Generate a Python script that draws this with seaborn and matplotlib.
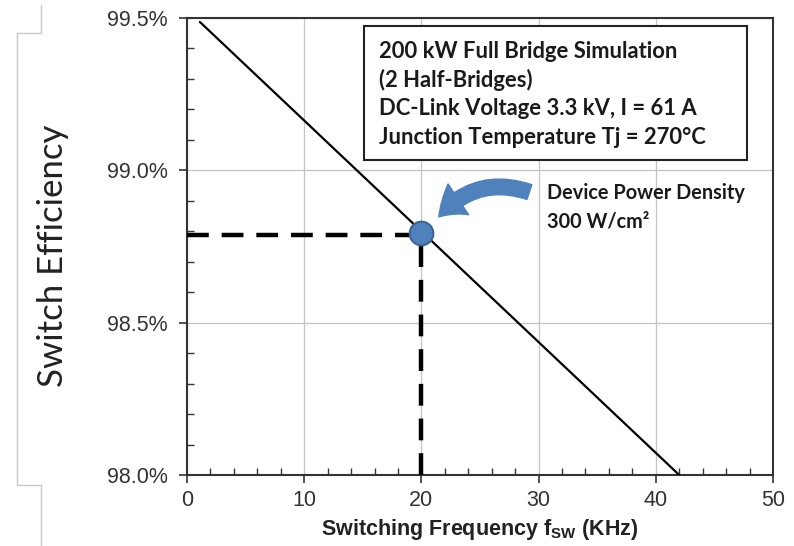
import matplotlib
matplotlib.use("Agg")
import matplotlib.pyplot as plt
import seaborn as sns
import pandas as pd
from matplotlib.ticker import MultipleLocator, FuncFormatter
from matplotlib.patches import FancyArrowPatch, Rectangle
from matplotlib.lines import Line2D

# ---- data ----
freq_khz = [1.1, 42.0]          # line end points (kHz)
efficiency = [99.487, 98.0]     # switch efficiency (%)
op_freq = [20.0]                # operating point
op_eff = [98.795]
x_ticks = [0, 10, 20, 30, 40, 50]
y_ticks = [98.0, 98.5, 99.0, 99.5]
info_lines = ["200 kW Full Bridge Simulation", "(2 Half-Bridges)",
              "DC-Link Voltage 3.3 kV, I = 61 A",
              "Junction Temperature Tj = 270°C"]
callout = ["Device Power Density", "300 W/cm²"]

sns.set_style("ticks")
plt.rcParams['font.family'] = ['Liberation Sans', 'DejaVu Sans']

fig = plt.figure(figsize=(7.94, 5.46), dpi=100)
ax = fig.add_axes([187/794, 1-475/546, (773-187)/794, (475-18)/546])

df_line = pd.DataFrame({"f": freq_khz, "eff": efficiency})
df_pt = pd.DataFrame({"f": op_freq, "eff": op_eff})

# guides
ax.plot([0, op_freq[0]], [op_eff[0] - 0.008, op_eff[0] - 0.008], color="black", lw=3.2,
        dashes=(4.9, 2.9), zorder=3, solid_capstyle="butt")
ax.plot([op_freq[0], op_freq[0]], [y_ticks[0], op_eff[0]], color="black", lw=3.2,
        dashes=(4.9, 2.9), zorder=3)

sns.lineplot(data=df_line, x="f", y="eff", ax=ax, color="black", lw=1.6, zorder=4)
sns.scatterplot(data=df_pt, x="f", y="eff", ax=ax, s=290, color="#4F81BD",
                edgecolor="#3A6596", linewidth=1.5, zorder=6)

ax.set_xlim(0, 50)
ax.set_ylim(98.0, 99.5)
ax.set_xticks(x_ticks)
ax.set_yticks(y_ticks)
ax.xaxis.set_minor_locator(MultipleLocator(2))
ax.yaxis.set_minor_locator(MultipleLocator(0.1))
ax.yaxis.set_major_formatter(FuncFormatter(lambda v, p: f"{v:.1f}%"))
ax.grid(True, which="major", color="#c4c4c4", lw=0.9)
ax.set_axisbelow(True)
for s in ax.spines.values():
    s.set_color("#333333")
    s.set_linewidth(1.5)
ax.tick_params(axis="both", which="major", direction="out", length=6, width=1.2,
               labelsize=15.5, labelcolor="#333333", color="#333333")
ax.tick_params(axis="both", which="minor", direction="in", length=5, width=1.0,
               color="#333333")
ax.tick_params(axis="x", pad=5)
ax.tick_params(axis="y", pad=8)

ax.set_xlabel("Switching Frequency f$_{\\mathregular{SW}}$ (KHz)", fontsize=15.5,
              fontweight="bold", labelpad=4, color="#222222")
ax.set_ylabel("")
fig.text(53/794, 1-256/546, "Switch Efficiency", rotation=90, ha="center",
         va="center", fontsize=25, family=["Lato", "DejaVu Sans"], color="#222222")

# info box
ax.add_patch(Rectangle((364/794, 1-160/546), (747-364)/794, (160-26)/546,
                       transform=fig.transFigure, fill=True, facecolor="white",
                       edgecolor="#222222", lw=1.5, zorder=7))
for i, t in enumerate(info_lines):
    fig.text(379/794, 1-(51+28.7*i)/546, t, ha="left", va="center", fontsize=15.8,
             fontweight="bold", family=["Lato", "DejaVu Sans"], color="#1a1a1a",
             zorder=8)

# callout
for i, t in enumerate(callout):
    fig.text(547/794, 1-(193+28*i)/546, t, ha="left", va="center", fontsize=14.3,
             fontweight="bold", family=["Lato", "DejaVu Sans"], color="#1a1a1a")
arrow = FancyArrowPatch((532/794, 1-193/546), (437/794, 1-219/546),
                        transform=fig.transFigure,
                        connectionstyle="arc3,rad=0.35",
                        arrowstyle="simple,head_width=1.9,head_length=1.35,tail_width=0.8",
                        mutation_scale=14, color="#4F81BD", zorder=9)
fig.patches.append(arrow)

# slide frame lines
gc = "#c8c8c8"
for xs, ys in [([41, 41], [5, 33]), ([17, 41], [33, 33]), ([17, 17], [33, 485]),
               ([17, 41], [485, 485]), ([41, 41], [485, 546])]:
    fig.add_artist(Line2D([x/794 for x in xs], [1-y/546 for y in ys], color=gc, lw=1))

fig.savefig("out.png", dpi=100)
